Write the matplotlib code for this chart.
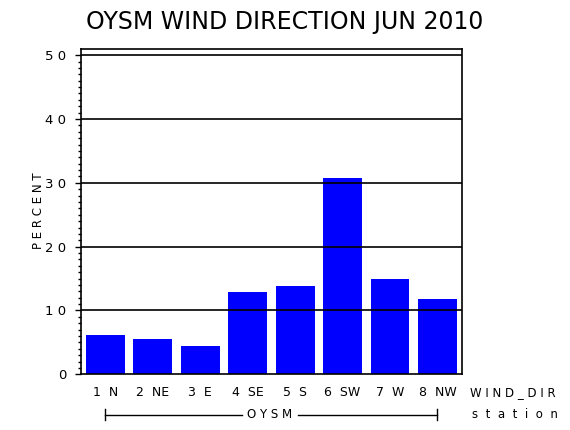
import numpy as np
import matplotlib
matplotlib.use("Agg")
import matplotlib.pyplot as plt
from matplotlib.ticker import MultipleLocator

# data
wind_dir = ["1  N", "2  NE", "3  E", "4  SE", "5  S", "6  SW", "7  W", "8  NW"]
percent = [6.1, 5.5, 4.4, 12.9, 13.8, 30.8, 14.9, 11.8]
station = "OYSM"
title = "OYSM WIND DIRECTION JUN 2010"

plt.rcParams['font.family'] = ['DejaVu Sans']
small = 8.5

fig = plt.figure(figsize=(5.7, 4.3), dpi=100)
ax = fig.add_axes([0.142, 0.1295, 0.6685, 0.7555])

x = np.arange(1, len(percent) + 1)
ax.bar(x, percent, width=0.82, color="#0000ff", zorder=2)

ax.set_xlim(0.483, 8.517)
ax.set_ylim(0, 50.9)
ax.yaxis.set_minor_locator(MultipleLocator(1))
ax.set_yticks([0, 10, 20, 30, 40, 50])
ax.set_yticklabels(["0", "1 0", "2 0", "3 0", "4 0", "5 0"], fontsize=small + 1)
ax.tick_params(axis="y", which="major", length=4.5, width=1, direction="out", pad=6)
ax.tick_params(axis="y", which="minor", length=2.5, width=1, direction="out")
ax.set_xticks([])

# grid lines drawn over the bars
for yv in [10, 20, 30, 40, 50]:
    ax.axhline(yv, color="black", lw=1.2, zorder=3)

for sp in ax.spines.values():
    sp.set_linewidth(1.2)

fig.text(38 / 570, 1 - 211 / 430, "P E R C E N T", rotation=90, ha="center",
         va="center", fontsize=small)

# category labels under the axis
lab_y = -2.9
for xi, lab in zip(x, wind_dir):
    ax.text(xi, lab_y, " ".join(lab.split(" ")), ha="center", va="center",
            fontsize=small + 0.5, clip_on=False)
ax.text(470 / 570, 1 - 393 / 430, "W I N D _ D I R", ha="left", va="center",
        fontsize=small, transform=fig.transFigure)

# station group bracket
yb = -6.3
ax.plot([x[0], 3.88], [yb, yb], color="black", lw=1, clip_on=False)
ax.plot([5.06, x[-1]], [yb, yb], color="black", lw=1, clip_on=False)
ax.plot([x[0], x[0]], [yb - 0.8, yb + 0.8], color="black", lw=1, clip_on=False)
ax.plot([x[-1], x[-1]], [yb - 0.8, yb + 0.8], color="black", lw=1, clip_on=False)
ax.text(4.47, yb, " ".join(station), ha="center", va="center",
        fontsize=small, clip_on=False)
ax.text(472 / 570, 1 - 414 / 430, "s  t  a  t  i  o  n", ha="left", va="center",
        fontsize=small, transform=fig.transFigure)

fig.text(0.5, 0.948, title, ha="center", va="center", fontsize=17)

fig.savefig("out.png", dpi=100)
